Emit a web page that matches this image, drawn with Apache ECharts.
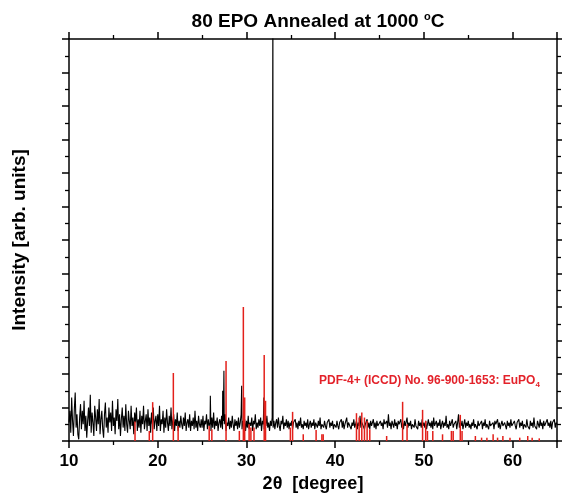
<!DOCTYPE html>
<html>
<head>
<meta charset="utf-8">
<script src="https://cdn.jsdelivr.net/npm/echarts@6/dist/echarts.min.js"></script>
<style>
  html, body { margin: 0; padding: 0; background: #fff; }
  #chart { width: 562px; height: 496px; }
</style>
</head>
<body>
<div id="chart"></div>
<script>
// measured pattern, 2theta from 10 to 65 in 0.1 deg steps
const scanStart = 10;
const scanStep = 0.1;
const noise = [
  0.55, 0.9, 0.25, 1.3, 0.6, 0.15, 0.95, 1.45, 0.4, 0.8, 0.2, 0.05, 0.7, 1.1, 0.35, 0.9, 0.5, 1.2, 0.3, 0.75,
  0.1, 0.6, 1.0, 0.45, 1.38, 0.25, 0.85, 0.55, 0.15, 1.05, 0.7, 0.3, 0.95, 0.5, 1.25, 0.2, 0.65, 0.9, 0.35, 0.1,
  0.8, 1.15, 0.4, 0.7, 0.25, 1.0, 0.55, 0.85, 0.3, 1.2,
  0.45, 0.7, 0.2, 0.95, 0.6, 1.25, 0.35, 0.8, 0.15, 0.65, 1.0, 0.4, 0.75, 0.3, 1.1, 0.5, 0.25, 0.9, 0.6, 0.35,
  1.05, 0.45, 0.7, 0.2, 0.85, 0.55, 1.0, 0.3, 0.65, 0.4, 0.9, 0.25, 0.75, 0.5, 1.05, 0.35, 0.6, 0.8, 0.3, 0.95,
  0.45, 0.7, 0.25, 0.85, 0.5, 1.0, 0.35, 0.6, 0.75, 0.3,
  0.8, 0.45, 1.05, 0.3, 0.65, 0.5, 0.9, 0.25, 0.7, 0.4, 0.95, 0.55, 0.3, 0.75, 0.45, 1.0, 0.35, 0.6, 0.8, 0.3,
  0.65, 0.45, 0.85, 0.3, 0.6, 0.4, 0.75, 0.5, 0.35, 0.7, 0.45, 0.85, 0.3, 0.55, 0.65, 0.4, 0.8, 0.3, 0.6, 0.45,
  0.7, 0.35, 0.9, 0.4, 0.6, 0.3, 0.75, 0.5, 0.4, 0.65,
  0.4, 0.75, 0.3, 0.6, 0.5, 0.8, 0.35, 0.65, 0.45, 0.55, 0.3, 0.7, 0.4, 0.85, 0.35, 0.6, 0.45, 0.7, 0.3, 0.55,
  0.65, 0.4, 0.75, 0.35, 0.6, 0.5, 0.8, 0.3, 0.55, 0.45, 0.7, 0.35, 0.6, 0.4, 0.75, 0.5, 0.3, 0.65, 0.45, 0.6,
  0.35, 0.7, 0.4, 0.55, 0.8, 0.35, 0.6, 0.45, 0.65, 0.3,
  0.6, 0.4, 0.75, 0.35, 0.55, 0.45, 0.7, 0.3, 0.6, 0.5, 0.8, 0.35, 0.55, 0.4, 0.65, 0.45, 0.7, 0.3, 0.6, 0.5,
  0.35, 0.65, 0.45, 0.75, 0.4, 0.55, 0.3, 0.6, 0.45, 0.7, 0.4, 0.6, 0.35, 0.55, 0.65, 0.4, 0.7, 0.45, 0.3, 0.6,
  0.5, 0.75, 0.35, 0.55, 0.45, 0.65, 0.4, 0.6, 0.35, 0.55,
  0.45, 0.6, 0.35, 0.55, 0.5, 0.65, 0.4, 0.55, 0.35, 0.6, 0.45, 0.7, 0.4, 0.5, 0.35, 0.6, 0.45, 0.55, 0.4, 0.65,
  0.35, 0.5, 0.6, 0.4, 0.55, 0.45, 0.65, 0.35, 0.55, 0.5, 0.4, 0.6, 0.45, 0.7, 0.35, 0.5, 0.55, 0.4, 0.6, 0.45,
  0.35, 0.55, 0.5, 0.65, 0.4, 0.55, 0.45, 0.6, 0.35, 0.5,
  0.55, 0.4, 0.6, 0.45, 0.35, 0.55, 0.5, 0.65, 0.4, 0.6, 0.35, 0.5, 0.45, 0.7, 0.4, 0.55, 0.5, 0.6, 0.35, 0.55,
  0.45, 0.65, 0.4, 0.5, 0.6, 0.35, 0.55, 0.45, 0.75, 0.4, 0.55, 0.5, 0.6, 0.35, 0.5, 0.45, 0.65, 0.4, 0.55, 0.35,
  0.6, 0.45, 0.5, 0.65, 0.4, 0.55, 0.35, 0.6, 0.45, 0.5,
  0.4, 0.6, 0.45, 0.55, 0.35, 0.65, 0.5, 0.45, 0.6, 0.4, 0.8, 0.45, 0.55, 0.35, 0.6, 0.5, 0.4, 0.65, 0.45, 0.55,
  0.35, 0.6, 0.5, 0.45, 0.65, 0.4, 0.55, 0.35, 0.6, 0.45, 0.5, 0.7, 0.4, 0.55, 0.45, 0.6, 0.35, 0.5, 0.55, 0.4,
  0.65, 0.45, 0.5, 0.35, 0.6, 0.45, 0.55, 0.4, 0.65, 0.45,
  0.55, 0.4, 0.6, 0.35, 0.5, 0.65, 0.45, 0.55, 0.4, 0.6, 0.35, 0.7, 0.45, 0.5, 0.6, 0.4, 0.55, 0.45, 0.65, 0.35,
  0.5, 0.6, 0.4, 0.55, 0.45, 0.75, 0.4, 0.5, 0.35, 0.6, 0.45, 0.55, 0.65, 0.4, 0.5, 0.45, 0.6, 0.35, 0.55, 0.8,
  0.4, 0.55, 0.45, 0.6, 0.35, 0.5, 0.65, 0.4, 0.55, 0.45,
  0.6, 0.4, 0.5, 0.35, 0.55, 0.45, 0.65, 0.4, 0.5, 0.55, 0.35, 0.6, 0.45, 0.5, 0.4, 0.6, 0.35, 0.55, 0.45, 0.65,
  0.4, 0.5, 0.55, 0.35, 0.6, 0.45, 0.5, 0.4, 0.55, 0.35, 0.6, 0.5, 0.45, 0.65, 0.4, 0.55, 0.35, 0.5, 0.6, 0.45,
  0.4, 0.55, 0.5, 0.35, 0.6, 0.45, 0.55, 0.4, 0.65, 0.45,
  0.5, 0.4, 0.6, 0.45, 0.35, 0.55, 0.5, 0.65, 0.4, 0.55, 0.45, 0.6, 0.35, 0.5, 0.55, 0.4, 0.65, 0.45, 0.5, 0.35,
  0.6, 0.45, 0.55, 0.4, 0.7, 0.45, 0.5, 0.35, 0.6, 0.5, 0.4, 0.65, 0.45, 0.55, 0.35, 0.6, 0.45, 0.5, 0.4, 0.65,
  0.45, 0.55, 0.4, 0.6, 0.35, 0.55, 0.5, 0.65, 0.4, 0.55,
  0.5
];
// sharp reflections of the sample
const peakPos = [25.93, 27.32, 27.46, 29.46, 31.96, 32.98];
const peakVal = [1.35, 1.5, 2.1, 1.65, 1.3, 14];

// reference card sticks (EuPO4)
const refPos = [17.44, 19.05, 19.43, 21.76, 22.3, 25.8, 26.1, 27.7, 29.2, 29.65, 29.8, 30.3, 30.5, 30.85, 32.0, 32.15,
  34.95, 35.2, 36.4, 37.85, 38.5, 38.65, 42.4, 42.7, 43.0, 43.3, 43.6, 43.9, 45.8, 47.6, 48.1, 49.85, 50.2, 50.4,
  51.0, 52.1, 53.1, 53.3, 54.1, 54.3, 55.8, 56.5, 57.1, 57.8, 58.3, 58.9, 59.7, 60.8, 61.7, 62.2, 63.0];
const refVal = [0.58, 0.3, 1.16, 2.03, 0.45, 0.45, 0.35, 2.39, 0.3, 4.0, 1.3, 0.5, 0.4, 0.4, 2.57, 1.2,
  0.4, 0.87, 0.2, 0.33, 0.2, 0.2, 0.83, 0.7, 0.85, 0.7, 0.6, 0.35, 0.15, 1.17, 0.5, 0.93, 0.6, 0.3,
  0.3, 0.2, 0.3, 0.3, 0.78, 0.3, 0.15, 0.1, 0.1, 0.2, 0.1, 0.15, 0.1, 0.1, 0.15, 0.1, 0.08];

const xTicks = [10, 20, 30, 40, 50, 60];

let scan = noise.map((v, i) => [Math.round((scanStart + i * scanStep) * 10) / 10, v]);
peakPos.forEach((p, i) => scan.push([p, peakVal[i]]));
scan.sort((a, b) => a[0] - b[0]);
const sticks = refPos.map((p, i) => [p, refVal[i]]);

const chart = echarts.init(document.getElementById('chart'), null, { renderer: 'canvas' });

const axisCommon = {
  type: 'value',
  axisLine: { onZero: false, lineStyle: { color: '#000', width: 1.5 } },
  axisTick: { show: true, inside: false, length: 7, lineStyle: { color: '#000', width: 1.5 } },
  minorTick: { show: true, splitNumber: 2, length: 4, lineStyle: { color: '#000', width: 1.3 } },
  splitLine: { show: false },
  minorSplitLine: { show: false }
};

chart.setOption({
  animation: false,
  title: [{
    text: '{t|80 EPO Annealed at 1000 }{s|o}{t|C}',
    left: 313, top: 6, textAlign: 'center',
    textStyle: {
      rich: {
        t: { fontFamily: 'Liberation Sans', fontWeight: 'bold', fontSize: 19, color: '#000', lineHeight: 22 },
        s: { fontFamily: 'Liberation Sans', fontWeight: 'bold', fontSize: 11, color: '#000', verticalAlign: 'top', lineHeight: 14 }
      }
    }
  }, {
    text: '{t|PDF-4+ (ICCD) No. 96-900-1653: EuPO}{s|4}',
    left: 314, top: 368,
    textStyle: {
      rich: {
        t: { fontFamily: 'Liberation Sans', fontWeight: 'bold', fontSize: 12, color: '#e3222a', lineHeight: 16 },
        s: { fontFamily: 'Liberation Sans', fontWeight: 'bold', fontSize: 8, color: '#e3222a', verticalAlign: 'bottom', lineHeight: 8, padding: [6, 0, 0, 0] }
      }
    }
  }],
  grid: { left: 69, right: 5, top: 39, bottom: 55, containLabel: false, outerBoundsMode: 'none' },
  xAxis: [
    Object.assign({}, axisCommon, {
      position: 'bottom', min: 10, max: 65, interval: 10,
      axisLabel: {
        color: '#000', fontFamily: 'Liberation Sans', fontWeight: 'bold', fontSize: 17, margin: 12,
        showMaxLabel: false,
        formatter: v => xTicks.indexOf(v) >= 0 ? String(v) : ''
      },
      name: '2θ  [degree]', nameLocation: 'middle', nameGap: 34,
      nameTextStyle: { color: '#000', fontFamily: 'Liberation Sans', fontWeight: 'bold', fontSize: 18 }
    }),
    Object.assign({}, axisCommon, {
      position: 'top', min: 10, max: 65, interval: 10,
      axisLabel: { show: false }
    })
  ],
  yAxis: [
    Object.assign({}, axisCommon, {
      position: 'left', min: 0, max: 12, interval: 1,
      axisLabel: { show: false },
      name: 'Intensity [arb. units]', nameLocation: 'middle', nameGap: 40,
      nameTextStyle: { color: '#000', fontFamily: 'Liberation Sans', fontWeight: 'bold', fontSize: 19 }
    }),
    Object.assign({}, axisCommon, {
      position: 'right', min: 0, max: 12, interval: 1,
      axisLabel: { show: false }
    })
  ],
  series: [{
    type: 'line',
    data: scan,
    showSymbol: false,
    clip: true,
    lineStyle: { color: '#000', width: 1.1 },
    z: 2
  }, {
    type: 'bar',
    data: sticks,
    barWidth: 1.5,
    itemStyle: { color: '#e3201b' },
    z: 3
  }]
});
</script>
</body>
</html>
